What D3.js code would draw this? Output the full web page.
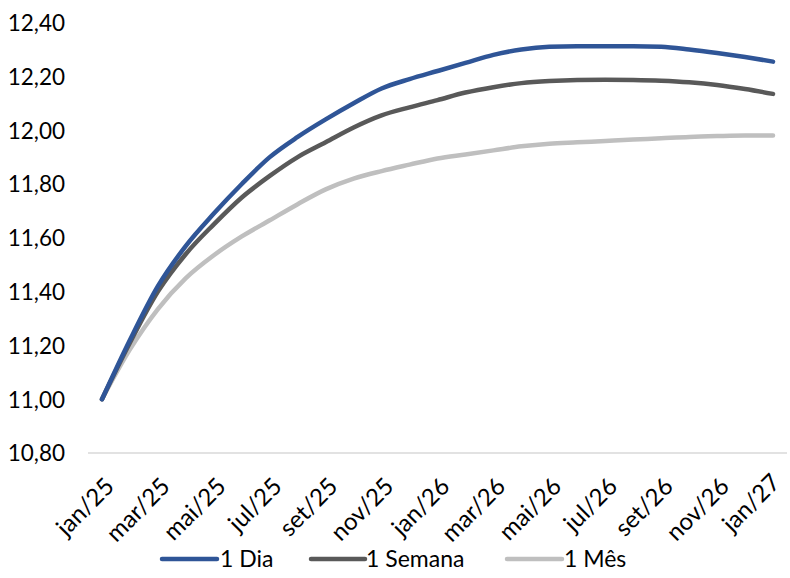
<!DOCTYPE html>
<html>
<head>
<meta charset="utf-8">
<script src="https://cdn.jsdelivr.net/npm/d3@7"></script>
<style>
  html, body { margin: 0; padding: 0; background: #fff; }
  svg { display: block; font-family: Lato, "Open Sans", sans-serif; }
</style>
</head>
<body>
<svg id="chart" width="790" height="578"></svg>
<script>
// Monthly categories, jan/25 .. jan/27
const months = [
  "jan/25","fev/25","mar/25","abr/25","mai/25","jun/25","jul/25","ago/25","set/25","out/25","nov/25","dez/25",
  "jan/26","fev/26","mar/26","abr/26","mai/26","jun/26","jul/26","ago/26","set/26","out/26","nov/26","dez/26",
  "jan/27"
];

const seriesNames = ["1 Dia", "1 Semana", "1 Mês"];
const seriesColors = ["#2F5597", "#595959", "#BFBFBF"];

const dia = [
  11.00, 11.22, 11.42, 11.57, 11.69, 11.80, 11.90, 11.975, 12.04, 12.10, 12.155, 12.19,
  12.22, 12.25, 12.28, 12.30, 12.31, 12.312, 12.312, 12.312, 12.31, 12.30, 12.287, 12.272,
  12.255
];
const semana = [
  11.00, 11.21, 11.40, 11.54, 11.65, 11.75, 11.83, 11.90, 11.955, 12.01, 12.055, 12.085,
  12.112, 12.14, 12.16, 12.175, 12.183, 12.187, 12.188, 12.187, 12.184, 12.178, 12.168, 12.153,
  12.135
];
const mes = [
  11.00, 11.185, 11.335, 11.45, 11.535, 11.605, 11.665, 11.725, 11.78, 11.82, 11.848, 11.872,
  11.895, 11.91, 11.925, 11.94, 11.95, 11.955, 11.96, 11.965, 11.97, 11.975, 11.978, 11.98,
  11.98
];

const yTicks = [10.8, 11.0, 11.2, 11.4, 11.6, 11.8, 12.0, 12.2, 12.4];

const allSeries = [dia, semana, mes];

const svg = d3.select("#chart");
const plot = { left: 88, right: 787, top: 22.6, bottom: 453 };

const x = d3.scalePoint()
  .domain(months)
  .range([plot.left, plot.right])
  .padding(0.5);

const y = d3.scaleLinear()
  .domain([10.8, 12.4])
  .range([plot.bottom, plot.top]);

const fmt = v => d3.format(".2f")(v).replace(".", ",");

// Y axis labels (no axis line, no ticks)
const yAxis = d3.axisLeft(y).tickValues(yTicks).tickFormat(fmt).tickSize(0).tickPadding(0);
const gy = svg.append("g").attr("transform", "translate(65,0)").call(yAxis);
gy.select(".domain").remove();
gy.selectAll("text")
  .attr("fill", "#000")
  .style("font-size", "22.5px")
  .style("font-family", "Lato, sans-serif")
  .attr("dy", "0.35em");

// Category baseline
svg.append("line")
  .attr("x1", plot.left).attr("x2", plot.right)
  .attr("y1", y(10.8)).attr("y2", y(10.8))
  .attr("stroke", "#D9D9D9").attr("stroke-width", 1.5);

// X labels every second month, rotated
const xLabels = months.filter((m, i) => i % 2 === 0);
const xAxis = d3.axisBottom(x).tickValues(xLabels).tickSize(0).tickPadding(0);
const gx = svg.append("g").attr("transform", `translate(0,${plot.bottom})`).call(xAxis);
gx.select(".domain").remove();
gx.selectAll("text")
  .attr("fill", "#000")
  .style("font-size", "24px")
  .style("font-family", "Lato, sans-serif")
  .attr("text-anchor", "end")
  .attr("dy", null)
  .attr("y", 0)
  .attr("transform", (d, i, n) => i === n.length - 1
    ? "translate(8,31) rotate(-45)"
    : "translate(13,35) rotate(-45)");

// Lines
const line = d3.line()
  .x((d, i) => x(months[i]))
  .y(d => y(d))
  .curve(d3.curveMonotoneX);

// lighter series first so the darker ones sit on top
[2, 1, 0].forEach(k => {
  svg.append("path")
    .datum(allSeries[k])
    .attr("fill", "none")
    .attr("stroke", seriesColors[k])
    .attr("stroke-width", 4.5)
    .attr("stroke-linecap", "round")
    .attr("stroke-linejoin", "round")
    .attr("d", line);
});

// Legend
const legendItems = [
  { x1: 162, x2: 217, tx: 220 },
  { x1: 311, x2: 365, tx: 366 },
  { x1: 507, x2: 562, tx: 564 }
];
const legendY = 559;
const lg = svg.append("g");
seriesNames.forEach((name, k) => {
  const it = legendItems[k];
  lg.append("line")
    .attr("x1", it.x1).attr("x2", it.x2)
    .attr("y1", legendY).attr("y2", legendY)
    .attr("stroke", seriesColors[k])
    .attr("stroke-width", 4.5)
    .attr("stroke-linecap", "round");
  lg.append("text")
    .attr("x", it.tx).attr("y", legendY)
    .attr("dy", "0.35em")
    .attr("fill", "#000")
    .style("font-size", "23px")
    .text(name);
});
</script>
</body>
</html>
